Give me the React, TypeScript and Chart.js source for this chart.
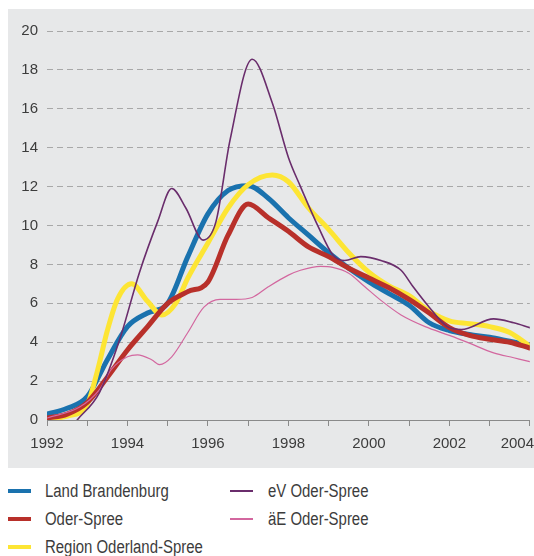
import React, { useEffect, useRef } from "react";
import { Chart, registerables } from "chart.js";

Chart.register(...registerables);

const seriesNames = [
  "Land Brandenburg",
  "Oder-Spree",
  "Region Oderland-Spree",
  "eV Oder-Spree",
  "äE Oder-Spree",
];

const brandenburgYears = [1992, 1992.5, 1993, 1993.5, 1994, 1994.5, 1995, 1995.5, 1996, 1996.5, 1997, 1997.5, 1998, 1998.5, 1999, 1999.5, 2000, 2000.5, 2001, 2001.5, 2002, 2002.5, 2003, 2003.5, 2004];
const brandenburgValues = [0.3, 0.6, 1.2, 3.1, 4.8, 5.5, 6.0, 8.4, 10.6, 11.8, 12.05, 11.4, 10.4, 9.5, 8.6, 7.8, 7.1, 6.5, 5.9, 5.0, 4.6, 4.4, 4.25, 4.05, 3.85];

const oderSpreeYears = [1992, 1992.5, 1993, 1993.5, 1994, 1994.5, 1995, 1995.5, 1996, 1996.5, 1997, 1997.5, 1998, 1998.5, 1999, 1999.5, 2000, 2000.5, 2001, 2001.5, 2002, 2002.5, 2003, 2003.5, 2004];
const oderSpreeValues = [0.1, 0.3, 0.9, 2.2, 3.6, 4.8, 6.0, 6.6, 7.1, 9.5, 11.1, 10.4, 9.7, 8.9, 8.4, 7.8, 7.3, 6.8, 6.2, 5.5, 4.75, 4.35, 4.15, 4.0, 3.7];

const regionYears = [1992, 1992.5, 1993, 1993.25, 1993.5, 1993.75, 1994.1, 1994.5, 1994.85, 1995.2, 1995.5, 1996, 1996.5, 1997, 1997.6, 1998, 1998.5, 1999, 1999.5, 2000, 2000.5, 2001, 2001.5, 2002, 2002.5, 2003, 2003.5, 2004];
const regionValues = [0.05, 0.2, 0.8, 2.5, 4.6, 6.2, 7.0, 6.1, 5.4, 6.0, 7.3, 9.1, 10.9, 12.1, 12.6, 12.25, 10.9, 9.8, 8.6, 7.6, 6.9, 6.4, 5.6, 5.1, 4.95, 4.8, 4.5, 3.8];

const evYears = [1992.75, 1993.3, 1993.8, 1994.3, 1994.75, 1995.1, 1995.45, 1995.88, 1996.2, 1996.55, 1997.1, 1997.6, 1998.0, 1998.3, 1998.75, 1999.1, 1999.4, 1999.8, 2000.3, 2000.8, 2001.1, 2001.5, 2001.95, 2002.3, 2003.1, 2003.6, 2004];
const evValues = [0, 1.4, 4.1, 7.6, 10.2, 11.9, 10.9, 9.25, 10.2, 14.4, 18.55, 16.3, 13.5, 12.0, 9.9, 8.5, 8.2, 8.4, 8.2, 7.7, 6.85, 5.8, 4.8, 4.65, 5.2, 5.0, 4.75];

const aeYears = [1992, 1992.8, 1993.3, 1993.6, 1994, 1994.25, 1994.6, 1994.8, 1995.1, 1995.5, 1995.9, 1996.3, 1996.7, 1997.1, 1997.5, 1998, 1998.3, 1998.8, 1999.1, 1999.5, 1999.9, 2000.3, 2000.8, 2001.4, 2002, 2002.5, 2003.1, 2003.6, 2004];
const aeValues = [0.1, 0.65, 1.55, 2.6, 3.25, 3.35, 3.1, 2.85, 3.25, 4.5, 5.8, 6.2, 6.2, 6.3, 6.85, 7.45, 7.7, 7.9, 7.85, 7.55, 6.85, 6.15, 5.4, 4.8, 4.35, 3.95, 3.45, 3.2, 3.0];

const seriesColors = ["#1a72ae", "#b8302a", "#fde534", "#6a2d6c", "#d3679f"];
const seriesWidths = [5, 5, 5, 1.6, 1.2];
const seriesOrder = [4, 2, 3, 0, 1];

const yTickStep = 2;
const xMin = 1992;
const xMax = 2004;

const FONT = "'Liberation Sans', Arial, Helvetica, sans-serif";

function pts(xs: number[], ys: number[]) {
  return xs.map((x, i) => ({ x, y: ys[i] }));
}

if (typeof document !== "undefined") {
  document.body.style.margin = "0";
  document.documentElement.style.overflow = "hidden";
}

export default function App() {
  const canvasRef = useRef<HTMLCanvasElement | null>(null);

  useEffect(() => {
    document.body.style.margin = "0";
    document.documentElement.style.overflow = "hidden";
    const xsList = [brandenburgYears, oderSpreeYears, regionYears, evYears, aeYears];
    const ysList = [brandenburgValues, oderSpreeValues, regionValues, evValues, aeValues];
    const chart = new Chart(canvasRef.current as HTMLCanvasElement, {
      type: "line",
      data: {
        datasets: seriesNames.map((name, i) => ({
          label: name,
          data: pts(xsList[i], ysList[i]),
          borderColor: seriesColors[i],
          backgroundColor: seriesColors[i],
          borderWidth: seriesWidths[i],
          pointRadius: 0,
          fill: false,
          cubicInterpolationMode: "monotone" as const,
          order: seriesOrder[i],
          borderCapStyle: "round" as const,
          borderJoinStyle: "round" as const,
        })),
      },
      options: {
        animation: false,
        responsive: false,
        devicePixelRatio: 1,
        layout: { padding: { top: 22, right: 38, left: 0, bottom: 0 } },
        plugins: {
          legend: { display: false },
          tooltip: { enabled: false },
        },
        scales: {
          x: {
            type: "linear",
            min: xMin,
            max: xMax,
            afterFit: (s: any) => {
              s.height = 48;
            },
            ticks: {
              stepSize: 1,
              autoSkip: false,
              maxRotation: 0,
              padding: 9,
              color: "#3c3c3c",
              font: { family: FONT, size: 15 },
              callback: (v: any) => {
                const n = Number(v);
                if (n % 2 !== 0) return "";
                if (n === xMax) return String(n) + "\u00a0\u00a0\u00a0\u00a0\u00a0\u00a0";
                return String(n);
              },
            },
            grid: {
              drawOnChartArea: false,
              drawTicks: true,
              tickLength: 6,
              color: "#8a8a8a",
              tickColor: "#8a8a8a",
            },
            border: { display: true, color: "#8a8a8a", width: 1 },
          },
          y: {
            min: 0,
            max: 20,
            afterFit: (s: any) => {
              s.width = 39;
            },
            ticks: {
              stepSize: yTickStep,
              padding: 9,
              color: "#3c3c3c",
              font: { family: FONT, size: 15 },
            },
            grid: {
              drawTicks: false,
              color: "#a8a8a8",
              lineWidth: 1,
            },
            border: { display: false, dash: [6, 4] },
          },
        },
      },
    });
    return () => chart.destroy();
  }, []);

  const legendRows = [
    { col: 0, row: 0, idx: 0 },
    { col: 0, row: 1, idx: 1 },
    { col: 0, row: 2, idx: 2 },
    { col: 1, row: 0, idx: 3 },
    { col: 1, row: 1, idx: 4 },
  ];

  return (
    <div style={{ position: "relative", width: 534, height: 556, fontFamily: FONT, overflow: "hidden" }}>
      <div
        style={{
          position: "absolute",
          left: 8,
          top: 9,
          width: 526,
          height: 459,
          background: "#e7e8e9",
          overflow: "hidden",
        }}
      >
        <canvas ref={canvasRef} width={560} height={459} style={{ display: "block", width: 560, height: 459 }} />
      </div>
      {legendRows.map((r) => {
        const cy = 491 + r.row * 28;
        const swLeft = r.col === 0 ? 8 : 230;
        const swWidth = 23;
        const txtLeft = r.col === 0 ? 45 : 268;
        const thick = seriesWidths[r.idx] >= 3 ? 4 : 2;
        return (
          <React.Fragment key={r.idx}>
            <div
              style={{
                position: "absolute",
                left: swLeft,
                top: cy - thick / 2,
                width: swWidth,
                height: thick,
                background: seriesColors[r.idx],
              }}
            />
            <div
              style={{
                position: "absolute",
                left: txtLeft,
                top: cy - 11,
                height: 22,
                lineHeight: "22px",
                fontSize: 18,
                color: "#3c3c3c",
                whiteSpace: "nowrap",
                transform: "scaleX(0.83)",
                transformOrigin: "0 50%",
              }}
            >
              {seriesNames[r.idx]}
            </div>
          </React.Fragment>
        );
      })}
    </div>
  );
}
